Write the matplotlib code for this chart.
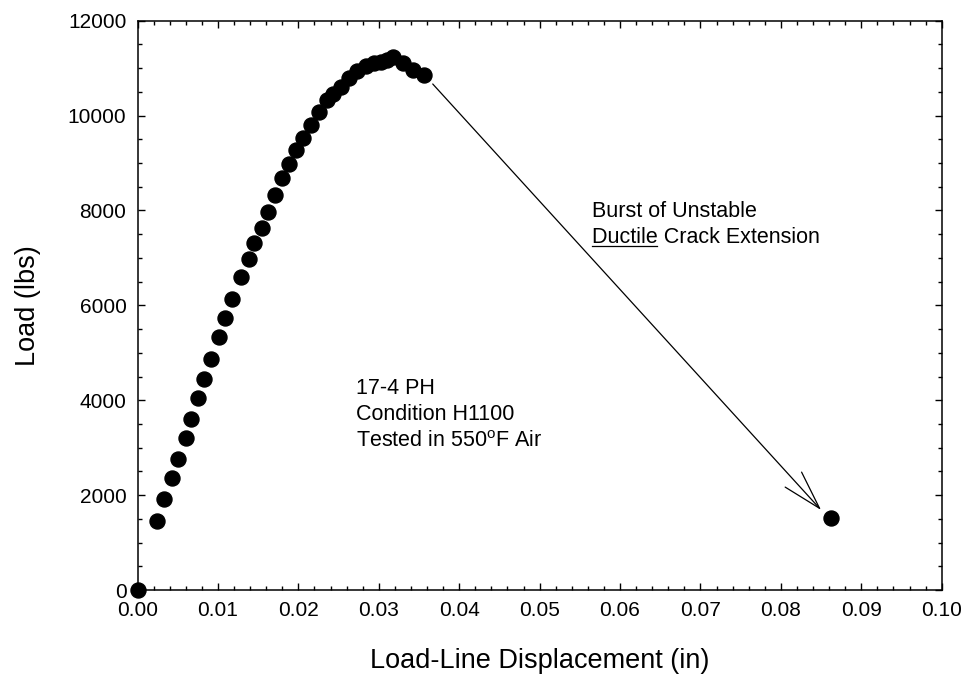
import matplotlib
matplotlib.use("Agg")
import matplotlib.pyplot as plt
from matplotlib.ticker import MultipleLocator, FormatStrFormatter
from matplotlib.lines import Line2D

plt.rcParams['font.family'] = ['Liberation Sans', 'DejaVu Sans']
plt.rcParams['mathtext.fontset'] = 'custom'
plt.rcParams['mathtext.rm'] = 'Liberation Sans'

# load vs. load-line displacement, 17-4 PH H1100 at 550F
disp = [0.0, 0.00239, 0.00330, 0.00425, 0.00500, 0.00600, 0.00662, 0.00749,
        0.00827, 0.00910, 0.01010, 0.01092, 0.01179, 0.01283, 0.01381, 0.01453,
        0.01544, 0.01626, 0.01709, 0.01797, 0.01888, 0.01967, 0.02062, 0.02158,
        0.02257, 0.02353, 0.02435, 0.02530, 0.02634, 0.02726, 0.02841, 0.02941,
        0.03028, 0.03098, 0.03180, 0.03305, 0.03429, 0.03561]
load = [0, 1461, 1912, 2367, 2755, 3198, 3600, 4041,
        4448, 4863, 5327, 5727, 6128, 6588, 6978, 7309,
        7625, 7975, 8327, 8675, 8970, 9276, 9535, 9803,
        10083, 10330, 10456, 10610, 10787, 10948, 11053, 11104,
        11138, 11174, 11230, 11104, 10963, 10858]

# point after the unstable crack burst
burst_disp = [0.08624]
burst_load = [1511]

# arrow from end of stable curve to the post-burst point
arrow_from = (0.03671, 10666)
arrow_to = (0.08500, 1686)

fig = plt.figure(figsize=(9.65, 6.81), dpi=100)
ax = fig.add_axes([0.1425, 0.1336, 0.8334, 0.8360])

ax.plot(disp, load, 'o', color='black', markersize=10.8, clip_on=False, zorder=3)
ax.plot(burst_disp, burst_load, 'o', color='black', markersize=10.8, clip_on=False, zorder=3)

ax.annotate('', xy=arrow_to, xytext=arrow_from,
            arrowprops=dict(arrowstyle='->,head_length=2.8,head_width=0.8',
                            lw=0.9, color='black', shrinkA=0, shrinkB=0))

ax.set_xlim(0, 0.10)
ax.set_ylim(0, 12000)
ax.xaxis.set_major_locator(MultipleLocator(0.01))
ax.xaxis.set_minor_locator(MultipleLocator(0.002))
ax.xaxis.set_major_formatter(FormatStrFormatter('%.2f'))
ax.yaxis.set_major_locator(MultipleLocator(2000))
ax.yaxis.set_minor_locator(MultipleLocator(500))

ax.tick_params(which='both', direction='in', top=True, right=True,
               width=1.0, labelsize=15, pad=8)
ax.tick_params(which='major', length=5)
ax.tick_params(which='minor', length=3)
for s in ax.spines.values():
    s.set_linewidth(1.1)

ax.set_xlabel('Load-Line Displacement (in)', fontsize=19.5, labelpad=20)
ax.set_ylabel('Load (lbs)', fontsize=19.5, labelpad=19)

fs = 15.5
ax.text(0.02717, 4140, '17-4 PH', fontsize=fs, va='baseline')
ax.text(0.02717, 3580, 'Condition H1100', fontsize=fs, va='baseline')
ax.text(0.02717, 3010, r'Tested in 550$^\mathrm{o}$F Air', fontsize=fs, va='baseline')

ax.text(0.05648, 7863, 'Burst of Unstable', fontsize=fs, va='baseline')
line2 = ax.text(0.05648, 7321, 'Ductile Crack Extension', fontsize=fs, va='baseline')
word = ax.text(0.05648, 7321, 'Ductile', fontsize=fs, va='baseline', alpha=0)

# underline under "Ductile"
fig.canvas.draw()
bb = word.get_window_extent().transformed(fig.transFigure.inverted())
uy = bb.y0 + 1.5 / 681
fig.add_artist(Line2D([bb.x0, bb.x1], [uy, uy], color='black', lw=0.9,
                      transform=fig.transFigure))

fig.savefig('out.png', dpi=100)
